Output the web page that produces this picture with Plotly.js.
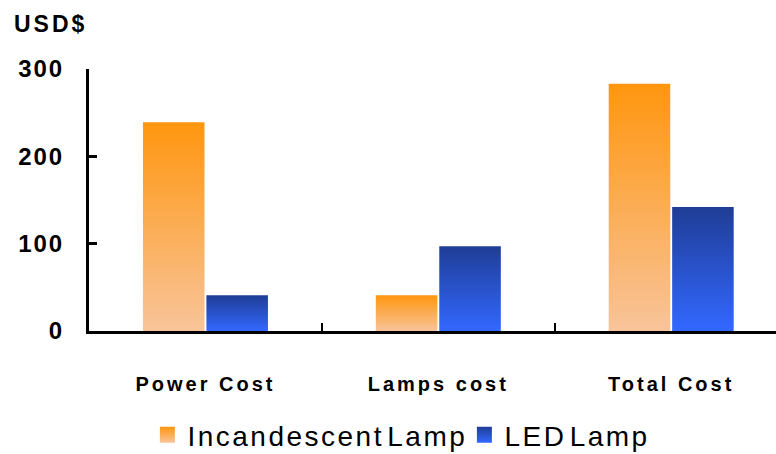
<!DOCTYPE html>
<html>
<head>
<meta charset="utf-8">
<script src="https://cdn.plot.ly/plotly-3.0.1.min.js"></script>
<style>
  html, body { margin: 0; padding: 0; background: #fff; }
  #chart { width: 776px; height: 454px; }
</style>
</head>
<body>
<div id="chart"></div>
<script>
// ---- data ----
const categories = ["Power Cost", "Lamps cost", "Total Cost"];
const incandescent = [239, 41, 283];
const led = [41, 97, 142];
const seriesNames = ["Incandescent Lamp", "LED Lamp"];
const yTicks = [0, 100, 200, 300];
const yTitle = "USD$";

const FONT = "Liberation Sans, Arial, sans-serif";

const traces = [
  { type: "bar", name: seriesNames[0], x: categories, y: incandescent,
    marker: { color: "#F9A650", line: { width: 0 } }, hoverinfo: "none" },
  { type: "bar", name: seriesNames[1], x: categories, y: led,
    marker: { color: "#2C55D8", line: { width: 0 } }, hoverinfo: "none" }
];

const layout = {
  width: 776, height: 454,
  margin: { l: 89, r: 0, t: 69, b: 123, autoexpand: false },
  paper_bgcolor: "#ffffff", plot_bgcolor: "#ffffff",
  barmode: "group", bargap: 0.455, bargroupgap: 0.03,
  showlegend: true,
  legend: {
    orientation: "h", x: 0.085, xanchor: "left", y: -0.397, yanchor: "middle",
    font: { family: FONT, size: 28, color: "#000" },
    entrywidth: 272, entrywidthmode: "pixels",
    bgcolor: "rgba(0,0,0,0)", borderwidth: 0, traceorder: "normal"
  },
  xaxis: {
    type: "category", range: [-0.5, 2.45], fixedrange: true,
    showline: true, linecolor: "#000", linewidth: 3,
    ticks: "inside", tickson: "boundaries", ticklen: 8, tickwidth: 2.5, tickcolor: "#000",
    showgrid: false, zeroline: false,
    tickfont: { family: FONT, size: 20, weight: "bold", color: "#000" },
    ticklabelstandoff: 33
  },
  yaxis: {
    range: [0, 300], tickvals: yTicks, ticktext: yTicks.map(String), fixedrange: true,
    showline: true, linecolor: "#000", linewidth: 3,
    ticks: "inside", ticklen: 8, tickwidth: 2.5, tickcolor: "#000",
    showgrid: false, zeroline: false,
    tickfont: { family: FONT, size: 24, weight: "bold", color: "#000" },
    ticklabelstandoff: 17
  },
  annotations: [{
    text: yTitle, xref: "paper", yref: "paper", x: -0.104, y: 1.172,
    xanchor: "left", yanchor: "middle", showarrow: false,
    font: { family: FONT, size: 23, weight: "bold", color: "#000" }
  }]
};

const gd = document.getElementById("chart");
Plotly.newPlot(gd, traces, layout, { staticPlot: true, displayModeBar: false }).then(function () {
  const NS = "http://www.w3.org/2000/svg";
  const svg = gd.querySelector("svg.main-svg");
  let defs = svg.querySelector("defs");
  if (!defs) { defs = document.createElementNS(NS, "defs"); svg.insertBefore(defs, svg.firstChild); }
  function grad(id, top, bottom) {
    const g = document.createElementNS(NS, "linearGradient");
    g.setAttribute("id", id);
    g.setAttribute("x1", "0"); g.setAttribute("y1", "0");
    g.setAttribute("x2", "0"); g.setAttribute("y2", "1");
    [[0, top], [1, bottom]].forEach(function (s) {
      const st = document.createElementNS(NS, "stop");
      st.setAttribute("offset", s[0]);
      st.setAttribute("stop-color", s[1]);
      g.appendChild(st);
    });
    defs.appendChild(g);
  }
  grad("gOrange", "#FF960F", "#F8C49A");
  grad("gBlue", "#1F3D96", "#3368FF");
  const ids = ["gOrange", "gBlue"];
  gd.querySelectorAll(".barlayer .trace").forEach(function (t, i) {
    t.querySelectorAll("path").forEach(function (p) { p.style.fill = "url(#" + ids[i] + ")"; });
  });
  gd.querySelectorAll(".legend .traces").forEach(function (t, i) {
    t.querySelectorAll(".legendpoints path").forEach(function (p) {
      p.setAttribute("d", "M7.5,8H-7.5V-8H7.5Z");
      p.style.fill = "url(#" + ids[i] + ")";
      p.style.stroke = "none";
    });
    const tx = t.querySelector("text");
    if (tx) { tx.style.letterSpacing = "2.5px"; tx.style.wordSpacing = "-7px"; }
  });
  gd.querySelectorAll(".xtick text").forEach(function (t) { t.style.letterSpacing = "3px"; });
  gd.querySelectorAll(".ytick text").forEach(function (t) { t.style.letterSpacing = "2px"; });
  gd.querySelectorAll(".annotation-text").forEach(function (t) { t.style.letterSpacing = "3px"; });
});
</script>
</body>
</html>
